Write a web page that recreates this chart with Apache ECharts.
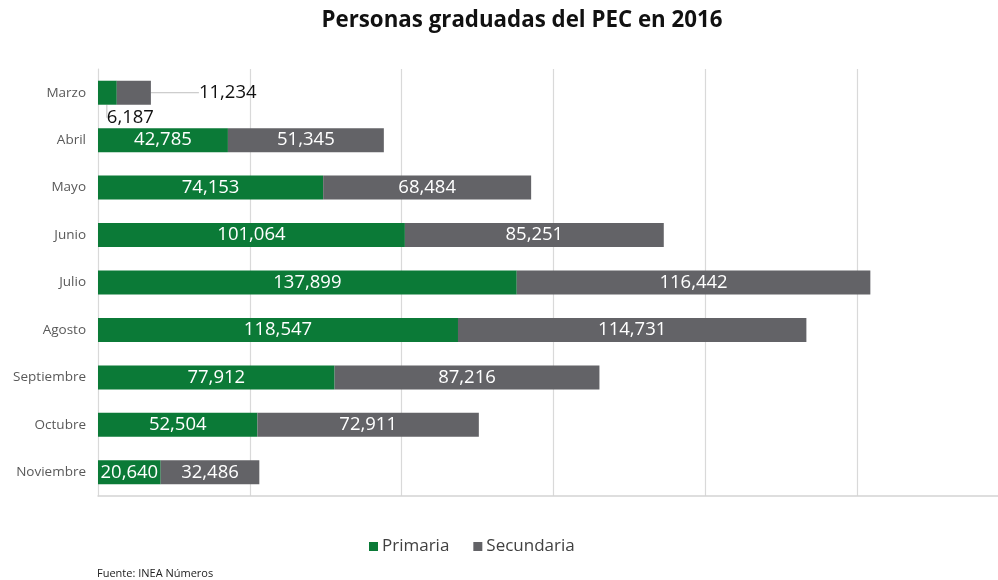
<!DOCTYPE html>
<html lang="es">
<head>
<meta charset="UTF-8">
<title>Personas graduadas del PEC en 2016</title>
<script src="https://cdn.jsdelivr.net/npm/echarts@6/dist/echarts.min.js"></script>
<style>
    body, html { margin: 0; padding: 0; background: #fff; }
    #chart { width: 998px; height: 580px; }
</style>
</head>
<body>
<div id="chart"></div>
<script>
// meses (de arriba hacia abajo)
var meses = ['Marzo', 'Abril', 'Mayo', 'Junio', 'Julio', 'Agosto', 'Septiembre', 'Octubre', 'Noviembre'];
var primaria = [6187, 42785, 74153, 101064, 137899, 118547, 77912, 52504, 20640];
var secundaria = [11234, 51345, 68484, 85251, 116442, 114731, 87216, 72911, 32486];

var verde = '#0b7a37';
var gris = '#636367';
var fmt = function (p) { return p.value.toLocaleString('en-US'); };

// Marzo es muy corto: etiquetas fuera de la barra con línea guía
function datos(valores, etiquetaMarzo) {
    return valores.map(function (v, i) {
        if (i === 0) return { value: v, label: etiquetaMarzo };
        return v;
    });
}

var option = {
    animation: false,
    title: {
        text: 'Personas graduadas del PEC en 2016',
        left: 517, top: 5, textAlign: 'center',
        textStyle: { fontFamily: 'Open Sans', fontWeight: 'bold', fontSize: 22.3, color: '#111' }
    },
    legend: {
        data: ['Primaria', 'Secundaria'],
        left: 364, top: 533,
        icon: 'rect', itemWidth: 9, itemHeight: 9, itemGap: 24,
        textStyle: { fontFamily: 'Open Sans', fontSize: 17, color: '#404040', padding: [0, 0, 0, -1] }
    },
    graphic: [{
        type: 'text', left: 97, top: 568,
        style: { text: 'Fuente: INEA Números', font: '11px "Open Sans"', fill: '#222' }
    }],
    grid: { left: 98, right: -11, top: 69, bottom: 84, outerBoundsMode: 'none' },
    xAxis: {
        type: 'value', min: 0, max: 300000, interval: 50000,
        axisLabel: { show: false },
        axisTick: { show: false },
        axisLine: { show: true, lineStyle: { color: '#d4d4d4', width: 1.5 } },
        splitLine: { show: true, lineStyle: { color: '#d9d9d9', width: 1.2 } }
    },
    yAxis: {
        type: 'category', data: meses, inverse: true,
        axisTick: { show: false },
        axisLine: { show: true, lineStyle: { color: '#d9d9d9' } },
        axisLabel: { fontFamily: 'Open Sans', fontSize: 13.5, color: '#595959', margin: 12 }
    },
    series: [{
        name: 'Primaria', type: 'bar', stack: 'total',
        barWidth: 24,
        itemStyle: { color: verde },
        label: { show: true, position: 'inside', color: '#fff', fontFamily: 'Open Sans', fontSize: 18.5, formatter: fmt },
        labelLine: { show: true, lineStyle: { color: '#bfbfbf', width: 1 } },
        labelLayout: function (p) {
            if (p.dataIndex === 0) return { dx: 23, dy: 25 };
        },
        data: datos(primaria, { position: 'inside', color: '#111' })
    }, {
        name: 'Secundaria', type: 'bar', stack: 'total',
        barWidth: 24,
        itemStyle: { color: gris },
        label: { show: true, position: 'inside', color: '#fff', fontFamily: 'Open Sans', fontSize: 18.5, formatter: fmt },
        labelLine: { show: true, lineStyle: { color: '#bfbfbf', width: 1 } },
        labelLayout: function (p) {
            if (p.dataIndex === 0) return { dx: 48, dy: 0 };
        },
        data: datos(secundaria, { position: 'right', distance: 0, color: '#111' })
    }]
};

var chart = echarts.init(document.getElementById('chart'));
chart.setOption(option);
</script>
</body>
</html>
